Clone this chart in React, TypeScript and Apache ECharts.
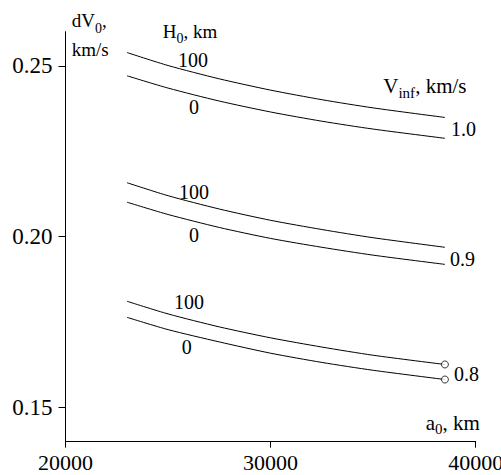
import React, { useEffect, useRef } from "react";
import * as echarts from "echarts";

// ---- data ----
const a0 = [23000, 25000, 27500, 30000, 32500, 35000, 38500];
const v10_h100 = [0.2539, 0.2501, 0.2462, 0.2429, 0.2401, 0.2377, 0.2349];
const v10_h0 = [0.2471, 0.2435, 0.2397, 0.2365, 0.2338, 0.2315, 0.2288];
const v09_h100 = [0.2158, 0.212, 0.2081, 0.2048, 0.2021, 0.1997, 0.1969];
const v09_h0 = [0.2101, 0.2065, 0.2027, 0.1995, 0.1969, 0.1946, 0.1919];
const v08_h100 = [0.1811, 0.1774, 0.1736, 0.1704, 0.1677, 0.1653, 0.1626];
const v08_h0 = [0.1764, 0.1728, 0.1692, 0.1659, 0.1632, 0.1609, 0.1582];

const yTicks = [0.15, 0.2, 0.25];
const xMin = 20000;
const xMax = 40000;
const xInterval = 10000;
const yMin = 0.14;
const yMax = 0.26;

const vinfLabels = ["1.0", "0.9", "0.8"];
const hLabels = ["100", "0"];

const FONT = "Liberation Serif";

function pairs(xs: number[], ys: number[]) {
  return xs.map((x, i) => [x, ys[i]]);
}

function lineSeries(name: string, ys: number[]) {
  return {
    name,
    type: "line",
    data: pairs(a0, ys),
    smooth: 0.25,
    symbol: "none",
    lineStyle: { color: "#000", width: 1 },
    silent: true,
  };
}

function subRich(main: number, sub: number, pad: number) {
  return {
    m: { fontFamily: FONT, fontSize: main, fill: "#000", color: "#000" },
    s: { fontFamily: FONT, fontSize: sub, fill: "#000", color: "#000", padding: [pad, 0, 0, 0] },
  };
}

function txt(x: number, y: number, text: string, size: number, align = "left", rich?: any) {
  const style: any = {
    text: rich ? text : `{m|${text}}`,
    fontFamily: FONT,
    fontSize: size,
    fill: "#000",
    align,
    verticalAlign: "middle",
    rich: rich || subRich(size, size, 0),
  };
  return { type: "text", x, y, silent: true, style };
}

export default function App() {
  const ref = useRef<HTMLDivElement>(null);
  useEffect(() => {
    if (!ref.current) return;
    const chart = echarts.init(ref.current, null, { renderer: "svg" });
    const last = a0.length - 1;
    const option: any = {
      animation: false,
      backgroundColor: "#fff",
      textStyle: { fontFamily: FONT },
      grid: {
        left: 65.5,
        right: 25.3,
        top: 31.7,
        bottom: 33.3,
        containLabel: false,
        outerBoundsMode: "none",
      },
      xAxis: {
        type: "value",
        min: xMin,
        max: xMax,
        interval: xInterval,
        splitLine: { show: false },
        axisLine: { lineStyle: { color: "#000", width: 1 } },
        axisTick: { show: true, inside: false, length: 6, lineStyle: { color: "#000" } },
        axisLabel: {
          color: "#000",
          fontFamily: FONT,
          fontSize: 22,
          margin: 10,
          showMinLabel: true,
          showMaxLabel: true,
          formatter: (v: number) => `{t|${v}}`,
          rich: { t: { fontFamily: FONT, fontSize: 22, color: "#000" } },
        },
      },
      yAxis: {
        type: "value",
        min: yMin,
        max: yMax,
        splitLine: { show: false },
        axisLine: { show: true, lineStyle: { color: "#000", width: 1 } },
        axisTick: {
          show: true,
          inside: false,
          length: 7,
          lineStyle: { color: "#000" },
          customValues: yTicks,
        },
        axisLabel: {
          color: "#000",
          fontFamily: FONT,
          fontSize: 23,
          margin: 13,
          customValues: yTicks,
          formatter: (v: number) => `{t|${v.toFixed(2)}}`,
          rich: { t: { fontFamily: FONT, fontSize: 23, color: "#000" } },
        },
      },
      series: [
        lineSeries("1.0 / 100", v10_h100),
        lineSeries("1.0 / 0", v10_h0),
        lineSeries("0.9 / 100", v09_h100),
        lineSeries("0.9 / 0", v09_h0),
        lineSeries("0.8 / 100", v08_h100),
        lineSeries("0.8 / 0", v08_h0),
        {
          name: "end markers",
          type: "scatter",
          data: [
            [a0[last], v08_h100[last]],
            [a0[last], v08_h0[last]],
          ],
          symbol: "circle",
          symbolSize: 7,
          itemStyle: { color: "#fff", borderColor: "#000", borderWidth: 1 },
          silent: true,
          z: 5,
        },
      ],
      graphic: [
        txt(71.7, 20.6, "{m|dV}{s|0}{m|,}", 19, "left", subRich(19, 14, 15)),
        txt(71.7, 49.6, "km/s", 19),
        txt(162.7, 31.9, "{m|H}{s|0}{m|, km}", 19, "left", subRich(19, 14, 14)),
        txt(383.3, 86.2, "{m|V}{s|inf}{m|, km/s}", 21, "left", subRich(21, 15, 14)),
        txt(425.7, 423, "{m|a}{s|0}{m|, km}", 21, "left", subRich(21, 15, 12)),
        txt(193, 60, hLabels[0], 20, "center"),
        txt(194, 106.7, hLabels[1], 20, "center"),
        txt(194, 191.7, hLabels[0], 20, "center"),
        txt(194, 235, hLabels[1], 20, "center"),
        txt(189, 301.7, hLabels[0], 20, "center"),
        txt(186.7, 347, hLabels[1], 20, "center"),
        txt(451, 129, vinfLabels[0], 20),
        txt(450, 258.5, vinfLabels[1], 20),
        txt(454, 374.3, vinfLabels[2], 20),
      ],
    };
    chart.setOption(option);
    return () => chart.dispose();
  }, []);
  return (
    <div
      ref={ref}
      style={{ position: "fixed", left: 0, top: 0, width: 501, height: 475, background: "#fff" }}
    />
  );
}
